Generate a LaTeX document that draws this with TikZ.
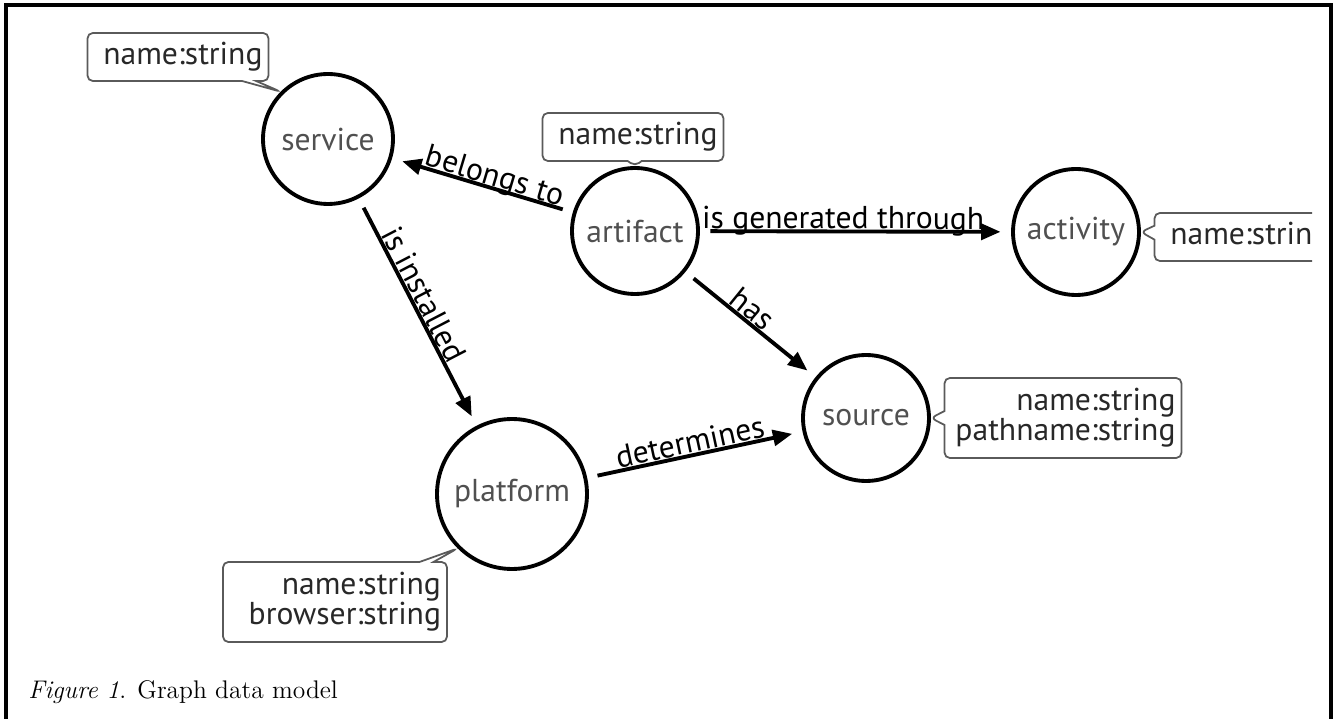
\documentclass[tikz,border=0pt]{standalone}
\usepackage{fontspec}
\newfontfamily\gillfont{PT Sans}
\usetikzlibrary{positioning,arrows.meta,shapes.callouts}
\definecolor{NodeGray}{RGB}{80,80,80}
\definecolor{BoxGray}{RGB}{90,90,90}
\definecolor{AttrText}{RGB}{40,40,40}
\tikzset{
	entity/.style={circle,draw=black,line width=2.2pt,minimum size=#1,inner sep=0pt,
		text=NodeGray,font=\gillfont\fontsize{18}{18}\selectfont},
	rel/.style={draw=black,line width=2.2pt,-{Triangle[length=11pt,width=9pt]},
		shorten >=6pt,shorten <=6pt},
	rellabel/.style={sloped,anchor=base,inner sep=0pt,yshift=1.5pt,
		font=\gillfont\fontsize{18}{18}\selectfont},
	attr/.style={rectangle callout,draw=BoxGray,line width=1pt,rounded corners=3pt,
		fill=white,text=AttrText,align=right,text width=#1,inner xsep=3.4pt,
		callout pointer width=0.28cm,font=\gillfont\fontsize{18}{17}\selectfont},
}
\begin{document}
\begin{tikzpicture}[x=0.02cm,y=-0.02cm]
	\useasboundingbox (0,0) rectangle (1343,719);
	\begin{scope}
		\clip (0,0) rectangle (1312,719);
		% entities
		\node[entity=2.6cm] (service) at (328,139) {service};
		\node[entity=2.52cm] (artifact) at (635,231) {artifact};
		\node[entity=2.52cm] (activity) at (1076,232) {activity};
		\node[entity=2.52cm] (source) at (866,418) {source};
		\node[entity=3cm] (platform) at (512,494) {platform};
		% attributes
		\node[attr=3.38cm,minimum height=0.96cm,callout absolute pointer={(service.135)}]
			(serviceattr) at (178,57) {name:string};
		\node[attr=3.38cm,minimum height=0.96cm,callout absolute pointer={(artifact.north)}]
			(artifactattr) at (633,137) {name:string};
		\node[attr=3.38cm,minimum height=0.96cm,callout absolute pointer={(activity.east)}]
			(activityattr) at (1245,237) {name:string};
		\node[attr=4.5cm,minimum height=1.6cm,callout absolute pointer={(source.east)}]
			(sourceattr) at (1063,418) {name:string\\pathname:string};
		\node[attr=4.24cm,minimum height=1.6cm,callout absolute pointer={(platform.south west)}]
			(platformattr) at (335,602) {name:string\\browser:string};
		% relations
		\draw[rel] (artifact) -- node[rellabel,pos=0.45] {belongs to} (service);
		\draw[rel] (service) -- node[rellabel,pos=0.45] {is installed} (platform);
		\draw[rel] (artifact) -- node[rellabel,pos=0.46] {is generated through} (activity);
		\draw[rel] (artifact) -- node[rellabel,pos=0.45] {has} (source);
		\draw[rel] (platform) -- node[rellabel,pos=0.49] {determines} (source);
	\end{scope}
	% frame and caption
	\draw[line width=2.3pt] (6,719) -- (6,5) -- (1331,5) -- (1331,719);
	\node[anchor=base west,inner sep=0pt,font=\fontsize{14.5}{16}\selectfont]
		(caption) at (28,698) {\textit{Figure 1}. Graph data model};
\end{tikzpicture}
\end{document}
